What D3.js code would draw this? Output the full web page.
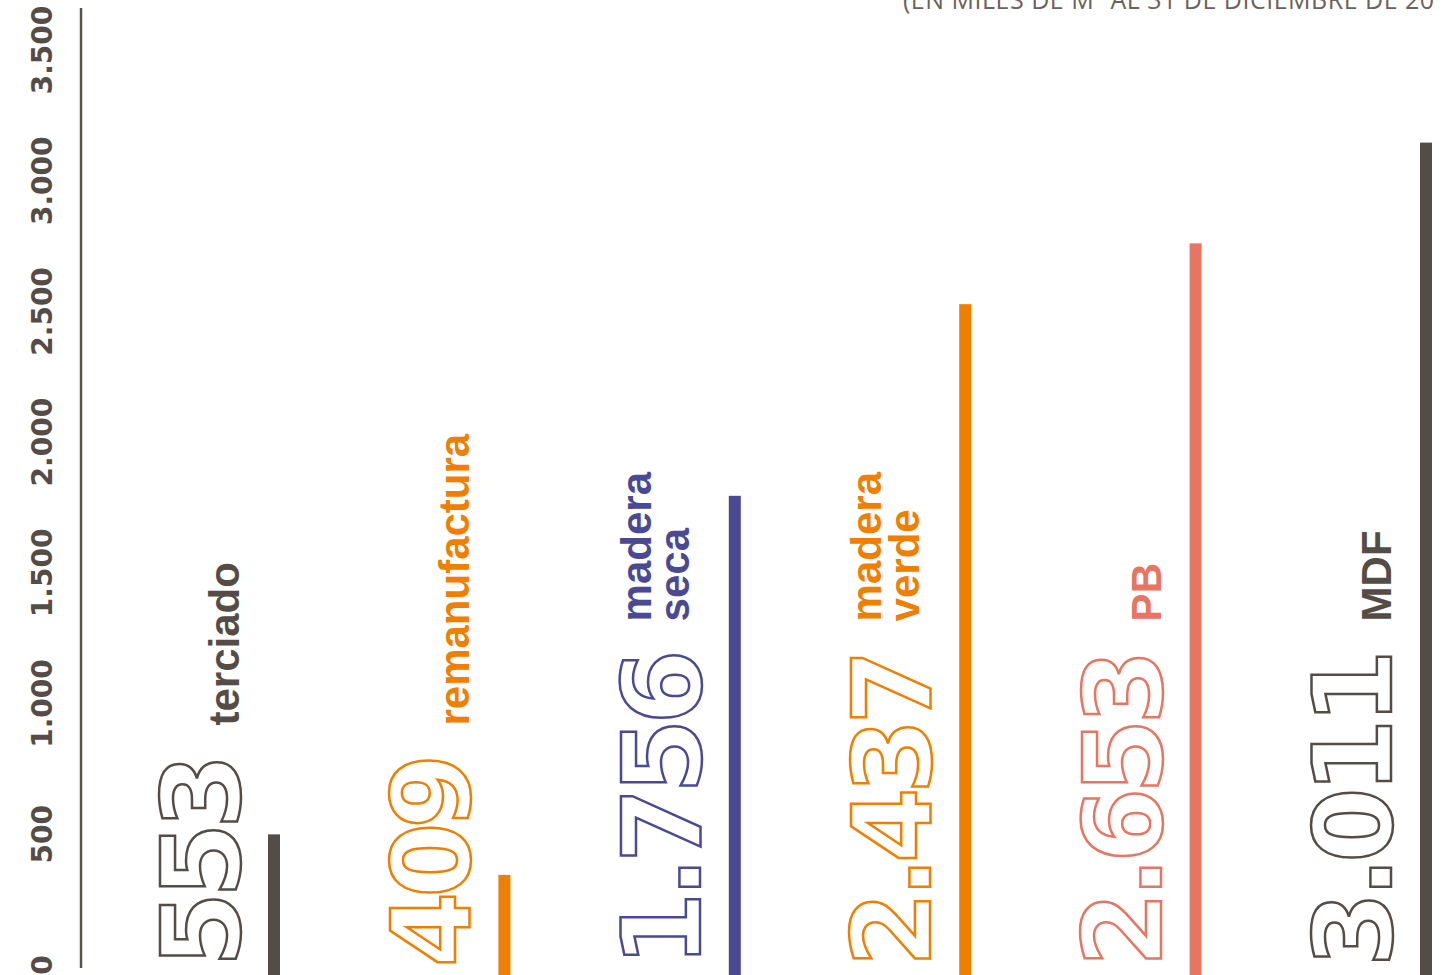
<!DOCTYPE html>
<html>
<head>
<meta charset="utf-8">
<script src="https://cdn.jsdelivr.net/npm/d3@7"></script>
<style>
    body { margin: 0; background: #fff; overflow: hidden; }
    svg { display: block; }
</style>
</head>
<body>
<div class="container"></div>
<script>
// Data
const categories = ["terciado", "remanufactura", "madera seca", "madera verde", "PB", "MDF"]
const values = [553, 409, 1756, 2437, 2653, 3011]
const barColors = ["#544c46", "#f07f00", "#4a4993", "#f07f00", "#e87562", "#544c46"]
const tickValues = [0, 500, 1000, 1500, 2000, 2500, 3000, 3500]
const subtitle = "(EN MILES DE M³ AL 31 DE DICIEMBRE DE 20"

const width = 1442
const height = 975

const locale = d3.formatLocale({decimal: ",", thousands: ".", grouping: [3], currency: ["", ""]})
const fmt = locale.format(",d")

const svg = d3.select(".container")
    .append("svg")
    .attr("width", width)
    .attr("height", height)

// scales
const x = d3.scalePoint()
    .domain(categories)
    .range([274, 1426])

// bars were drawn a bit off the printed axis, so they get their own scale
const yBar = d3.scaleLinear()
    .domain([0, 3500])
    .range([990, 5])

const yAxis = d3.scaleLinear()
    .domain([0, 3500])
    .range([965, 50])

// subtitle, cut at the top of the page like in the original
svg.append("text")
    .attr("x", 903)
    .attr("y", 9)
    .style("font-family", "'Open Sans', sans-serif")
    .style("font-size", "25px")
    .style("letter-spacing", "0.5px")
    .style("fill", "#6b625b")
    .text(subtitle)

// axis line
svg.append("line")
    .attr("x1", 81).attr("x2", 81)
    .attr("y1", 8).attr("y2", 968)
    .style("stroke", "#5a524c")
    .style("stroke-width", 2.5)

// tick labels (rotated)
svg.selectAll(".tick-label")
    .data(tickValues)
    .enter()
    .append("text")
    .attr("class", "tick-label")
    .attr("transform", d => `translate(52, ${yAxis(d)}) rotate(-90)`)
    .attr("text-anchor", "middle")
    .style("font-family", "'DejaVu Sans', sans-serif")
    .style("font-weight", "bold")
    .style("font-size", "28px")
    .style("fill", "#544c46")
    .text(d => fmt(d))

// bars
svg.selectAll(".bar")
    .data(values)
    .enter()
    .append("rect")
    .attr("class", "bar")
    .attr("x", (d, i) => x(categories[i]) - 6)
    .attr("width", 12)
    .attr("y", d => yBar(d))
    .attr("height", d => yBar(0) - yBar(d))
    .style("fill", (d, i) => barColors[i])

// big outlined numbers
const NUM_OFFSET = 35
const nums = svg.selectAll(".num")
    .data(values)
    .enter()
    .append("text")
    .attr("class", "num")
    .attr("transform", (d, i) => `translate(${x(categories[i]) - NUM_OFFSET}, 967) rotate(-90)`)
    .style("font-family", "'DejaVu Sans', sans-serif")
    .style("font-weight", "bold")
    .style("font-size", "108px")
    .style("letter-spacing", "-6px")
    .style("fill", "none")
    .style("stroke", (d, i) => barColors[i])
    .style("stroke-width", 2.5)
    .text(d => fmt(d))

// category labels, just above each number
const GAP = 32
const LINE = 38
nums.each(function(d, i) {
    const len = this.getComputedTextLength()
    const lines = categories[i].split(" ")
    // two-line labels sit a little further left
    const baseX = x(categories[i]) - NUM_OFFSET - (lines.length > 1 ? 11 : 0)
    const startY = 965 - len - GAP
    lines.forEach((ln, j) => {
        svg.append("text")
            .attr("transform", `translate(${baseX - (lines.length - 1 - j) * LINE}, ${startY}) rotate(-90)`)
            .style("font-family", "'Liberation Sans', Arial, sans-serif")
            .style("font-weight", "bold")
            .style("font-size", "42px")
            .style("fill", barColors[i])
            .text(ln)
    })
})
</script>
</body>
</html>
